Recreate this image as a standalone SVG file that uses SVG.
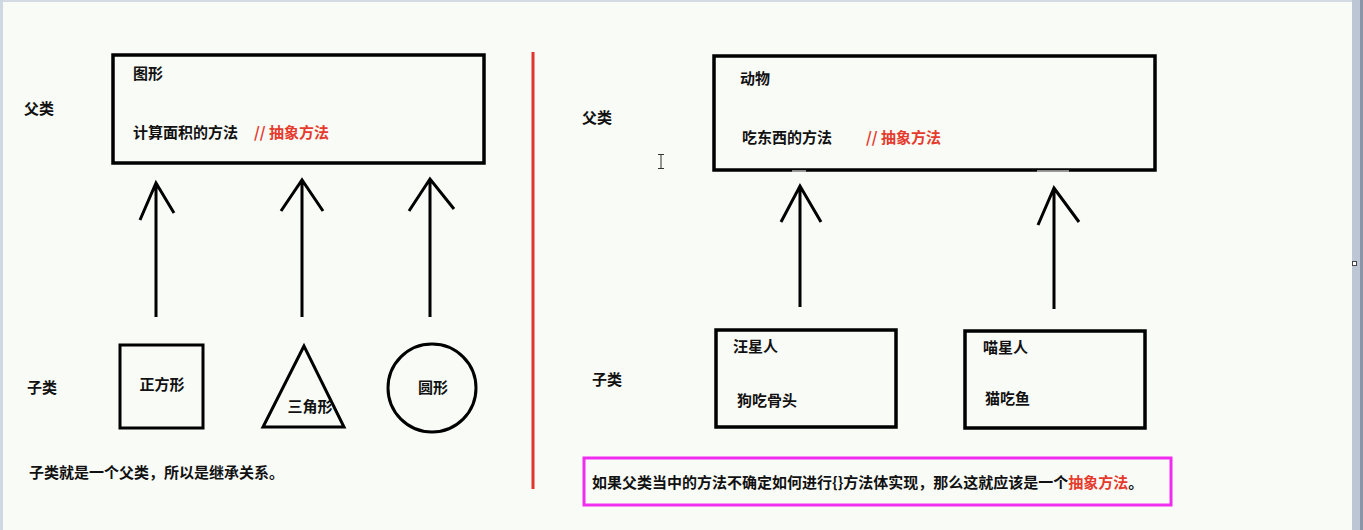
<svg xmlns="http://www.w3.org/2000/svg" width="1363" height="530" viewBox="0 0 1363 530">
<style>
text{font-family:"Noto Sans CJK SC","Liberation Sans",sans-serif;font-size:15px;font-weight:bold;fill:#111}
.red{fill:#e53a2c}
.box{fill:none;stroke:#000;stroke-width:3.5}
.shape{fill:none;stroke:#000;stroke-width:3}
.arrow{fill:none;stroke:#000;stroke-width:3;stroke-linecap:butt;stroke-linejoin:miter}
.mid{text-anchor:middle}
</style>
<rect x="0" y="0" width="1363" height="530" fill="#f9fbf7"/>
<rect x="0" y="0" width="1363" height="2" fill="#d3dae4"/>
<rect x="0" y="0" width="3" height="530" fill="#cfd7e2"/>
<rect x="1352" y="0" width="11" height="530" fill="#bcc6d4"/>
<rect x="1360" y="0" width="3" height="530" fill="#8a96a8"/>
<rect x="1352.5" y="261.5" width="4" height="4" fill="#fff" stroke="#444" stroke-width="1"/>

<line id="divider" x1="533" y1="52" x2="533" y2="489" stroke="#e0352b" stroke-width="3"/>

<text x="24" y="114">父类</text>
<text x="27" y="393">子类</text>
<text x="29" y="478">子类就是一个父类，所以是继承关系。</text>
<text x="582" y="123">父类</text>
<text x="592" y="385">子类</text>

<g id="shape-parent">
<rect class="box" x="113" y="55" width="371" height="108"/>
<text x="133" y="79">图形</text>
<text x="133" y="138">计算面积的方法</text>
<text class="red" x="254" y="138">// 抽象方法</text>
</g>

<g id="square">
<rect class="shape" x="120" y="345" width="83" height="83"/>
<text class="mid" x="162" y="390">正方形</text>
</g>
<g id="triangle">
<polygon class="shape" points="304,346 263,427 344,427"/>
<text class="mid" x="310" y="412">三角形</text>
</g>
<g id="circle">
<circle class="shape" cx="432" cy="388" r="44"/>
<text class="mid" x="433" y="393">圆形</text>
</g>

<g id="animal-parent">
<rect class="box" x="714" y="56" width="441" height="114"/>
<text x="740" y="84">动物</text>
<text x="742" y="143">吃东西的方法</text>
<text class="red" x="866" y="143">// 抽象方法</text>
</g>
<line x1="792" y1="171" x2="806" y2="171" stroke="#bbb" stroke-width="1.5"/>
<line x1="1037" y1="171" x2="1069" y2="171" stroke="#bbb" stroke-width="1.5"/>

<g id="dog">
<rect class="box" x="716" y="330" width="180" height="97"/>
<text x="733" y="352">汪星人</text>
<text x="737" y="406">狗吃骨头</text>
</g>
<g id="cat">
<rect class="box" x="965" y="331" width="180" height="97"/>
<text x="983" y="353">喵星人</text>
<text x="985" y="404">猫吃鱼</text>
</g>

<g id="note">
<rect x="584" y="458" width="587" height="47" fill="none" stroke="#ef2cef" stroke-width="3"/>
<text x="592" y="488">如果父类当中的方法不确定如何进行{}方法体实现，那么这就应该是一个<tspan class="red">抽象方法</tspan>。</text>
</g>

<g id="connectors">
<path class="arrow" d="M156,317 V183 M140,220 L156,183 L174,213"/>
<path class="arrow" d="M302,317 V180 M281,211 L302,180 L323,211"/>
<path class="arrow" d="M430,317 V179 M409,211 L430,179 L454,209"/>
<path class="arrow" d="M800,307 V186 M781,222 L800,186 L821,222"/>
<path class="arrow" d="M1054,309 V188 M1038,225 L1054,188 L1079,222"/>
</g>

<g id="cursor" stroke="#333" stroke-width="1" fill="none">
<path d="M658,154.5 H664 M661,154.5 V168.5 M658,168.5 H664"/>
</g>
</svg>
